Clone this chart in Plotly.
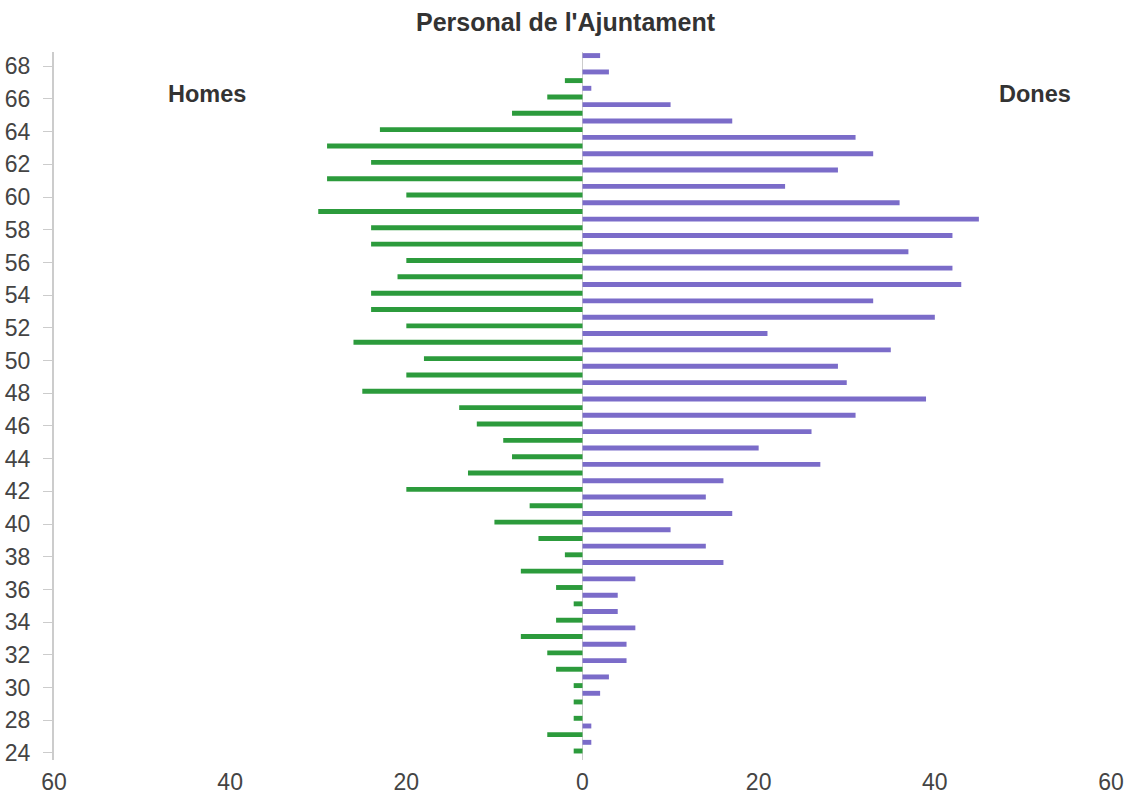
import plotly.graph_objects as go

ages = [24, 26] + list(range(28, 69))
homes = [1, 4, 1, 1, 1, 3, 4, 7, 3, 1,
         3, 7, 2, 5, 10, 6, 20, 13, 8, 9,
         12, 14, 25, 20, 18, 26, 20, 24, 24, 21,
         20, 24, 24, 30, 20, 29, 24, 29, 23, 8,
         4, 2, 0]
dones = [1, 1, 0, 2, 3, 5, 5, 6, 4, 4,
         6, 16, 14, 10, 17, 14, 16, 27, 20, 26,
         31, 39, 30, 29, 35, 21, 40, 33, 43, 42,
         37, 42, 45, 36, 23, 29, 33, 31, 17, 10,
         1, 3, 2]
x_ticks = [-60, -40, -20, 0, 20, 40, 60]
x_tick_text = ["60", "40", "20", "0", "20", "40", "60"]

cats = [str(a) for a in ages]
GREEN = "#2c9b3c"
PURPLE = "#7b6cc9"
BAR_W = 0.3

fig = go.Figure()
fig.add_trace(go.Bar(
    y=cats, x=[-v for v in homes], orientation="h", name="Homes",
    marker=dict(color=GREEN, line=dict(width=0)),
    width=BAR_W, offset=-0.03,
    customdata=homes, hovertemplate="%{y}: %{customdata}<extra>Homes</extra>",
))
fig.add_trace(go.Bar(
    y=cats, x=dones, orientation="h", name="Dones",
    marker=dict(color=PURPLE, line=dict(width=0)),
    width=BAR_W, offset=0.5,
    hovertemplate="%{y}: %{x}<extra>Dones</extra>",
))

fig.update_layout(
    width=1131, height=802,
    margin=dict(l=54, r=20, t=52, b=42, autoexpand=False),
    paper_bgcolor="white", plot_bgcolor="white",
    barmode="overlay",
    showlegend=False,
    font=dict(family="Liberation Sans, Arial, sans-serif", color="#444444"),
    title=dict(text="<b>Personal de l'Ajuntament</b>", x=0.5, xanchor="center",
               y=1 - 22 / 802, yanchor="middle",
               font=dict(size=25, color="#333333")),
    xaxis=dict(range=[-60, 60], tickvals=x_ticks, ticktext=x_tick_text,
               automargin=False,
               showgrid=False, zeroline=True, zerolinecolor="#cccccc", zerolinewidth=1,
               showline=False, ticks="", tickfont=dict(size=23, color="#444444"),
               ticklabelstandoff=6),
    yaxis=dict(type="category", categoryorder="array", categoryarray=cats,
               range=[-0.43, 42.87], automargin=False,
               tickmode="array", tickvals=cats[::2], ticktext=cats[::2],
               showgrid=False, zeroline=False,
               showline=True, linecolor="#cccccc", linewidth=2,
               ticks="outside", ticklen=9, tickcolor="#cccccc", tickwidth=1,
               ticklabelstandoff=8,
               tickfont=dict(size=23, color="#444444")),
    annotations=[
        dict(text="<b>Homes</b>", xref="paper", yref="paper",
             x=(207 - 54) / 1057, y=(760 - 94) / 708, showarrow=False,
             xanchor="center", yanchor="middle",
             font=dict(size=23.5, color="#333333")),
        dict(text="<b>Dones</b>", xref="paper", yref="paper",
             x=(1035 - 54) / 1057, y=(760 - 94) / 708, showarrow=False,
             xanchor="center", yanchor="middle",
             font=dict(size=23.5, color="#333333")),
    ],
)

fig.write_html("out.html", config={"displayModeBar": False},
               post_script="document.body.style.margin='0';")
